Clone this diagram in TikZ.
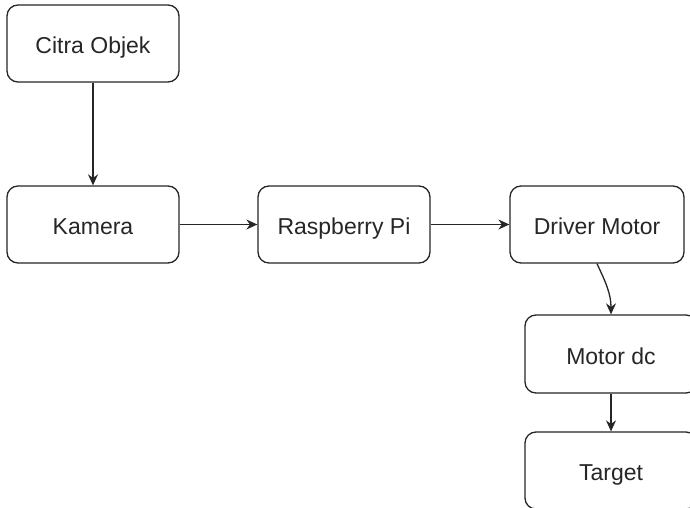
\documentclass[tikz,border=0pt]{standalone}
\usepackage{fontspec}
\setmainfont{Liberation Sans}
\usetikzlibrary{arrows.meta}
\begin{document}
\begin{tikzpicture}[x=1pt,y=-1pt,
  blk/.style={draw=black!85, line width=1.3pt, rounded corners=11pt, fill=white,
    minimum width=172pt, minimum height=77pt, inner sep=0pt,
    text height=22pt, text depth=2pt,
    font=\fontsize{23}{27}\selectfont, text=black!85},
  arr/.style={draw=black!85, line width=1.3pt, -{Stealth[length=11pt,width=10pt]}}]
\useasboundingbox (0,0) rectangle (690,508);
\clip (0,0) rectangle (690,508);
\fill[white] (0,0) rectangle (690,508);
\node[blk] (citra) at (93,43.5) {Citra Objek};
\node[blk] (kamera) at (93,224.5) {Kamera};
\node[blk] (rasp) at (344,224.5) {Raspberry Pi};
\node[blk, minimum width=174pt] (driver) at (597,224.5) {Driver Motor};
\node[blk, minimum height=78pt] (motor) at (611,354) {Motor dc};
\node[blk] (target) at (611,470.5) {Target};
\draw[arr] (citra) -- (kamera);
\draw[arr] (kamera) -- (rasp);
\draw[arr] (rasp) -- (driver);
\draw[arr] (driver.south) to[out=-65,in=90] (motor.north);
\draw[arr] (motor) -- (target);
\end{tikzpicture}
\end{document}
